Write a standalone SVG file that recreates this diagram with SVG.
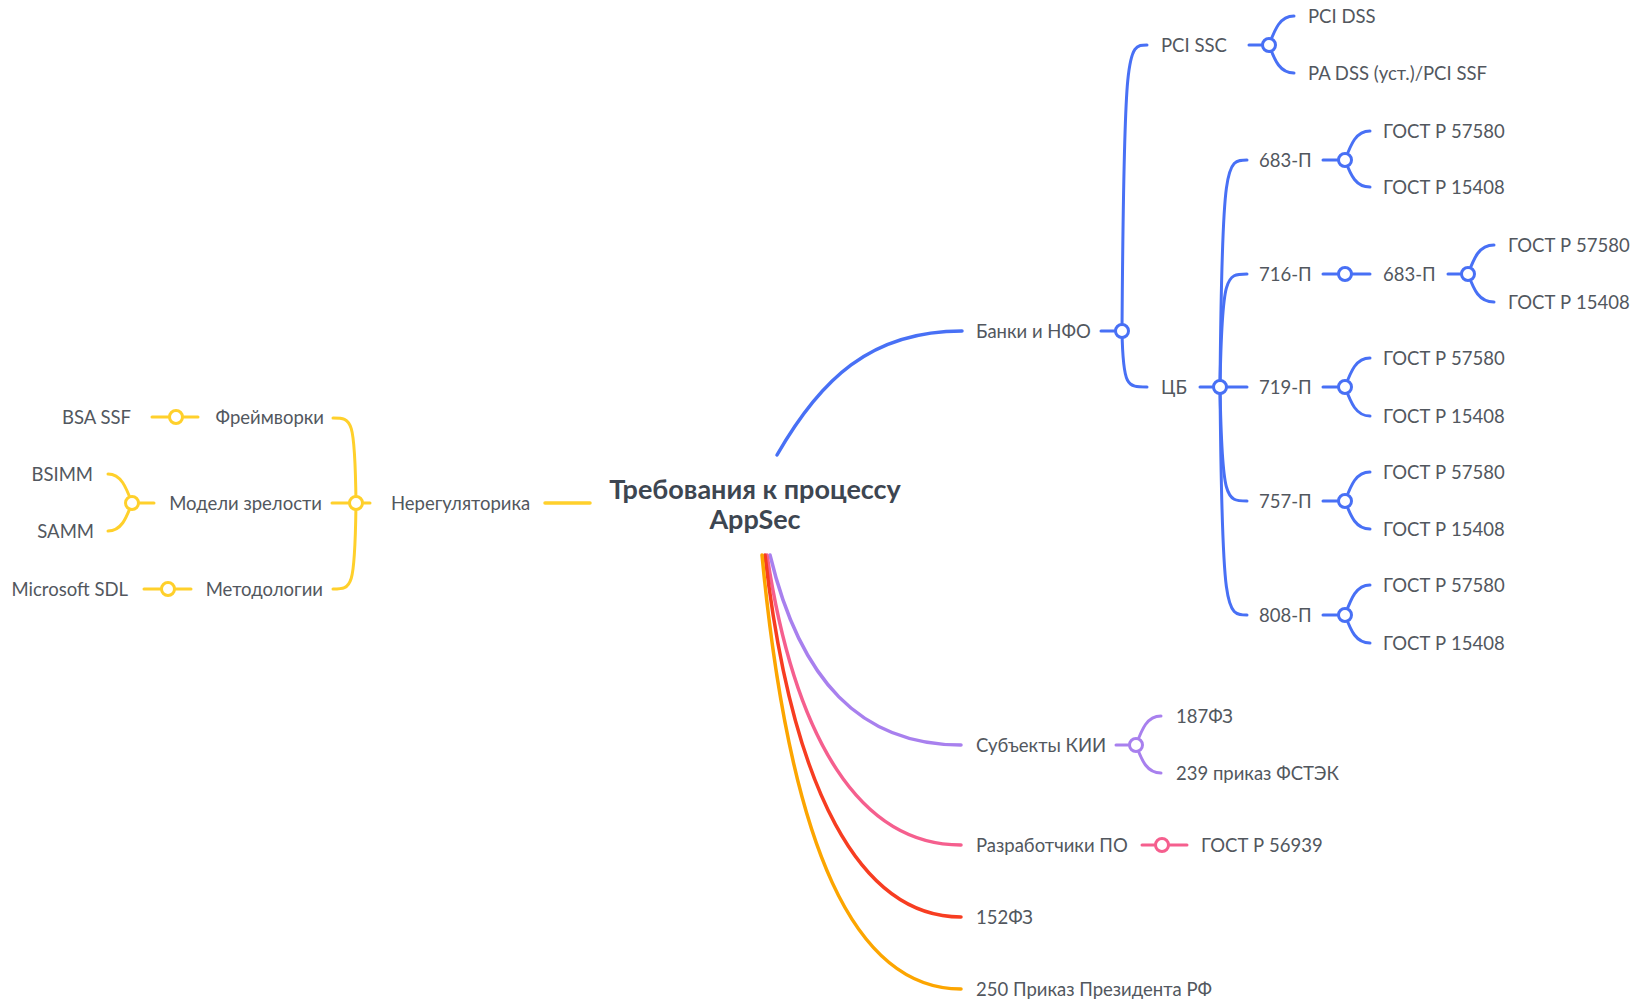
<svg xmlns="http://www.w3.org/2000/svg" width="1636" height="1001" viewBox="0 0 1636 1001">
<style>
.t{font-family:Lato,"Liberation Sans",sans-serif;font-size:18.5px;fill:#52575e}
.e{text-anchor:end}
.title{font-family:Lato,"Liberation Sans",sans-serif;font-weight:bold;font-size:27px;fill:#3d4651;text-anchor:middle}
#connectors path{fill:none;stroke-width:3;stroke-linecap:round}
#connectors circle{fill:#fff;stroke-width:3}
.bl{stroke:#4870f5}
.ye{stroke:#ffd02b}
.pu{stroke:#a880ee}
.pk{stroke:#f55f8e}
.rd{stroke:#f73d21}
.or{stroke:#fca500}
.main{stroke-width:3.5 !important}
</style>
<rect width="1636" height="1001" fill="#fff"/>
<g id="connectors">
<path class="bl main" d="M777,455 C820,380 870,331 962,331"/>
<path class="ye main" d="M545,503 L590,503"/>
<path class="pu main" d="M770,555 C800,680 860,745 961,745"/>
<path class="pk main" d="M767,555 C795,740 860,845 961,845"/>
<path class="rd main" d="M765,555 C792,790 860,917 961,917"/>
<path class="or main" d="M762,555 C790,850 855,989 961,989"/>
<path class="bl" d="M1101,331 L1122,331"/>
<path class="bl" d="M1122,331 C1124,45 1127,45 1147,45"/>
<path class="bl" d="M1122,331 C1123,387 1127,387 1147,387"/>
<path class="bl" d="M1249,45 L1269,45"/>
<path class="bl" d="M1269,45 C1275,29 1280,16 1294,16"/>
<path class="bl" d="M1269,45 C1275,61 1280,73 1294,73"/>
<path class="bl" d="M1200,387 L1247,387"/>
<path class="bl" d="M1220,387 C1222,160 1226,160 1247,160"/>
<path class="bl" d="M1220,387 C1222,274 1226,274 1247,274"/>
<path class="bl" d="M1220,387 C1222,501 1226,501 1247,501"/>
<path class="bl" d="M1220,387 C1222,615 1226,615 1247,615"/>
<path class="bl" d="M1323,160 L1345,160 M1345,160 C1351,144 1356,131 1370,131 M1345,160 C1351,176 1356,187 1370,187"/>
<path class="bl" d="M1323,274 L1370,274"/>
<path class="bl" d="M1448,274 L1468,274 M1468,274 C1474,258 1479,245 1494,245 M1468,274 C1474,290 1479,302 1494,302"/>
<path class="bl" d="M1323,387 L1345,387 M1345,387 C1351,371 1356,358 1370,358 M1345,387 C1351,403 1356,416 1370,416"/>
<path class="bl" d="M1323,501 L1345,501 M1345,501 C1351,485 1356,472 1370,472 M1345,501 C1351,517 1356,529 1370,529"/>
<path class="bl" d="M1323,615 L1345,615 M1345,615 C1351,599 1356,585 1370,585 M1345,615 C1351,631 1356,643 1370,643"/>
<circle class="bl" cx="1122" cy="331" r="6.5"/>
<circle class="bl" cx="1269" cy="45" r="6.5"/>
<circle class="bl" cx="1220" cy="387" r="6.5"/>
<circle class="bl" cx="1345" cy="160" r="6.5"/>
<circle class="bl" cx="1345" cy="274" r="6.5"/>
<circle class="bl" cx="1468" cy="274" r="6.5"/>
<circle class="bl" cx="1345" cy="387" r="6.5"/>
<circle class="bl" cx="1345" cy="501" r="6.5"/>
<circle class="bl" cx="1345" cy="615" r="6.5"/>
<path class="ye" d="M370,503 L332,503"/>
<path class="ye" d="M356,503 C355,418 352,418 333,418"/>
<path class="ye" d="M356,503 C355,589 352,589 333,589"/>
<path class="ye" d="M198,417 L152,417"/>
<path class="ye" d="M154,503 L132,503 M132,503 C126,487 121,474 108,474 M132,503 C126,519 121,531 108,531"/>
<path class="ye" d="M191,589 L144,589"/>
<circle class="ye" cx="356" cy="503" r="6.5"/>
<circle class="ye" cx="176" cy="417" r="6.5"/>
<circle class="ye" cx="132" cy="503" r="6.5"/>
<circle class="ye" cx="168" cy="589" r="6.5"/>
<path class="pu" d="M1116,745 L1136,745 M1136,745 C1142,729 1147,716 1161,716 M1136,745 C1142,761 1147,773 1161,773"/>
<circle class="pu" cx="1136" cy="745" r="6.5"/>
<path class="pk" d="M1142,845 L1187,845"/>
<circle class="pk" cx="1162" cy="845" r="6.5"/>
</g>
<g id="root">
<text class="title" x="755" y="498.5">Требования к процессу</text>
<text class="title" x="755" y="529">AppSec</text>
</g>
<g id="n-banks"><text class="t" x="976" y="337.5">Банки и НФО</text></g>
<g id="n-pcissc"><text class="t" x="1161" y="51.5">PCI SSC</text></g>
<g id="n-pcidss"><text class="t" x="1308" y="22.5">PCI DSS</text></g>
<g id="n-padss"><text class="t" x="1308" y="79.5">PA DSS (уст.)/PCI SSF</text></g>
<g id="n-cb"><text class="t" x="1161" y="393.5">ЦБ</text></g>
<g id="n-683"><text class="t" x="1259" y="166.5">683-П</text></g>
<g id="n-683-a"><text class="t" x="1383" y="137.5">ГОСТ Р 57580</text></g>
<g id="n-683-b"><text class="t" x="1383" y="193.5">ГОСТ Р 15408</text></g>
<g id="n-716"><text class="t" x="1259" y="280.5">716-П</text></g>
<g id="n-716-683"><text class="t" x="1383" y="280.5">683-П</text></g>
<g id="n-716-a"><text class="t" x="1508" y="251.5">ГОСТ Р 57580</text></g>
<g id="n-716-b"><text class="t" x="1508" y="308.5">ГОСТ Р 15408</text></g>
<g id="n-719"><text class="t" x="1259" y="393.5">719-П</text></g>
<g id="n-719-a"><text class="t" x="1383" y="364.5">ГОСТ Р 57580</text></g>
<g id="n-719-b"><text class="t" x="1383" y="422.5">ГОСТ Р 15408</text></g>
<g id="n-757"><text class="t" x="1259" y="507.5">757-П</text></g>
<g id="n-757-a"><text class="t" x="1383" y="478.5">ГОСТ Р 57580</text></g>
<g id="n-757-b"><text class="t" x="1383" y="535.5">ГОСТ Р 15408</text></g>
<g id="n-808"><text class="t" x="1259" y="621.5">808-П</text></g>
<g id="n-808-a"><text class="t" x="1383" y="591.5">ГОСТ Р 57580</text></g>
<g id="n-808-b"><text class="t" x="1383" y="649.5">ГОСТ Р 15408</text></g>
<g id="n-nereg"><text class="t" x="391" y="509.5">Нерегуляторика</text></g>
<g id="n-frame"><text class="t e" x="324" y="423.5">Фреймворки</text></g>
<g id="n-models"><text class="t e" x="322" y="509.5">Модели зрелости</text></g>
<g id="n-metod"><text class="t e" x="323" y="595.5">Методологии</text></g>
<g id="n-bsa"><text class="t e" x="131" y="423.5">BSA SSF</text></g>
<g id="n-bsimm"><text class="t e" x="93" y="480.5">BSIMM</text></g>
<g id="n-samm"><text class="t e" x="94" y="537.5">SAMM</text></g>
<g id="n-sdl"><text class="t e" x="128" y="595.5">Microsoft SDL</text></g>
<g id="n-kii"><text class="t" x="976" y="751.5">Субъекты КИИ</text></g>
<g id="n-187"><text class="t" x="1176" y="722.5">187ФЗ</text></g>
<g id="n-239"><text class="t" x="1176" y="779.5">239 приказ ФСТЭК</text></g>
<g id="n-dev"><text class="t" x="976" y="851.5">Разработчики ПО</text></g>
<g id="n-56939"><text class="t" x="1201" y="851.5">ГОСТ Р 56939</text></g>
<g id="n-152"><text class="t" x="976" y="923.5">152ФЗ</text></g>
<g id="n-250"><text class="t" x="976" y="995.5">250 Приказ Президента РФ</text></g>
</svg>
